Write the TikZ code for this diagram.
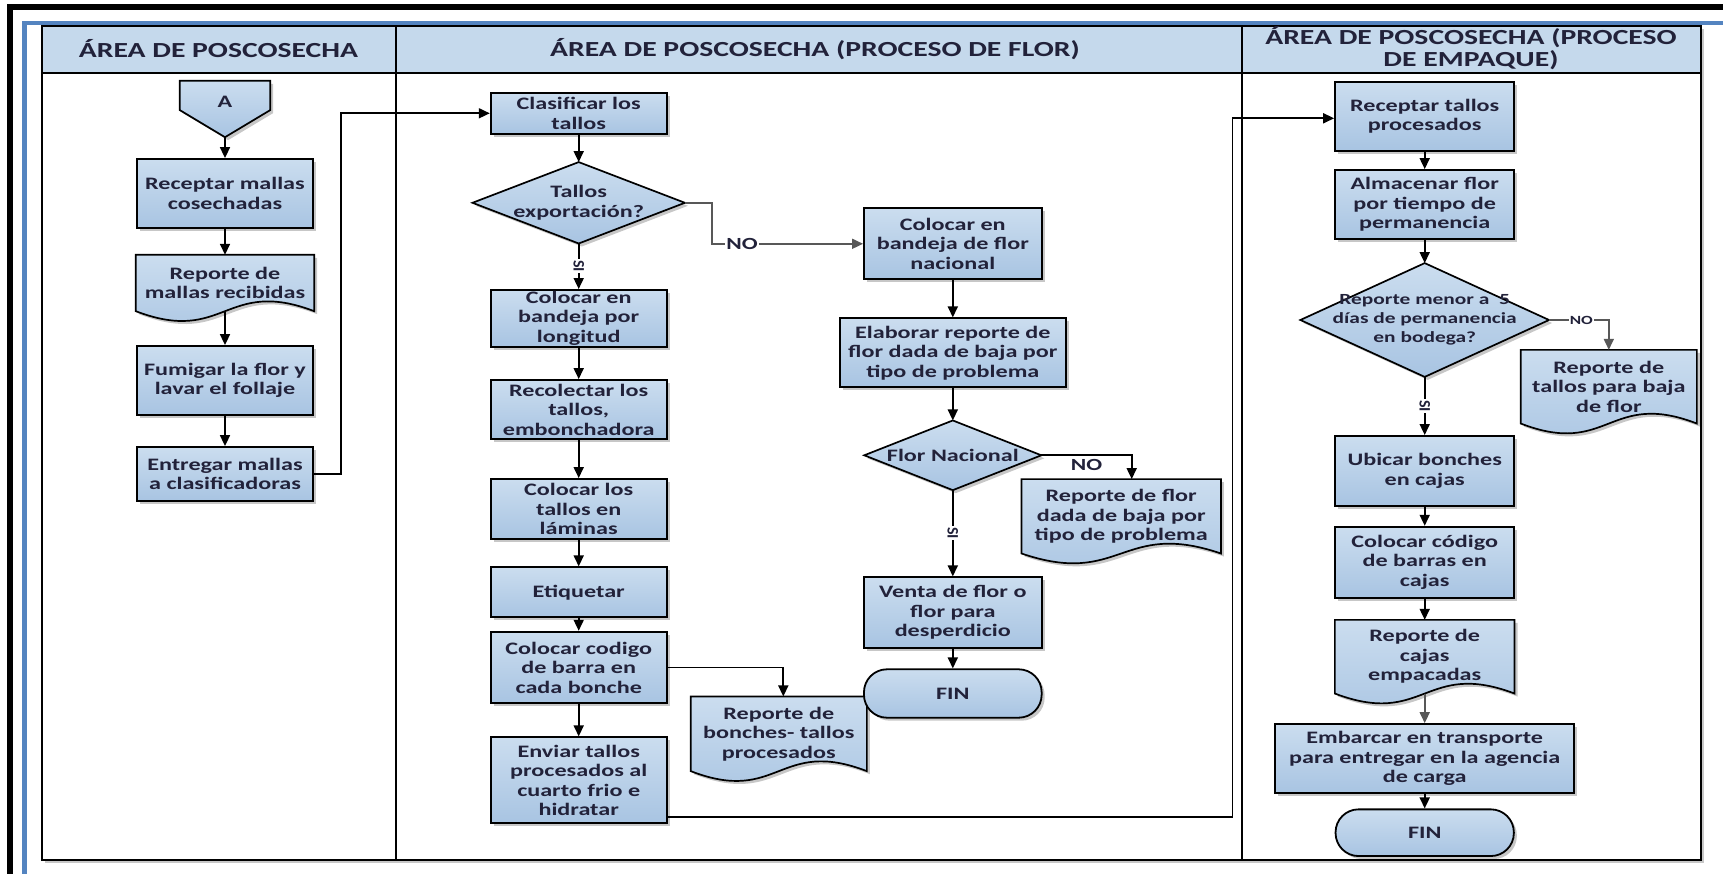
\documentclass[tikz,border=0pt]{standalone}
\usepackage{fontspec}
\usetikzlibrary{arrows.meta,shadows,calc}
\newfontfamily\boxfam{Carlito}[FakeStretch=1.38]
\newfontfamily\lblfam{Carlito}
\definecolor{boxtop}{RGB}{203,221,239}
\definecolor{boxbot}{RGB}{168,196,226}
\definecolor{headfill}{RGB}{197,217,236}
\definecolor{ink}{RGB}{34,34,58}
\definecolor{frameblue}{RGB}{84,132,192}
\definecolor{linkgray}{RGB}{88,88,88}
\pgfdeclarelayer{lanes}
\pgfdeclarelayer{skins}
\pgfsetlayers{lanes,skins,main}
\newcommand\boxfnt{\boxfam\bfseries\fontsize{17.5}{19.5}\selectfont}
\newcommand\diafnt{\boxfam\bfseries\fontsize{15.5}{18.8}\selectfont}
\newcommand\headfnt{\boxfam\bfseries\fontsize{21.5}{22.7}\selectfont}
\newcommand\sifnt{\lblfam\bfseries\fontsize{16}{17}\selectfont}
\newcommand\nofnt{\boxfam\bfseries\fontsize{17}{18}\selectfont}
\newcommand\nosmall{\boxfam\bfseries\fontsize{12.5}{13}\selectfont}
\tikzset{
  wh/.style 2 args={minimum width=#1pt, minimum height=#2pt},
  bluefill/.style={top color=boxtop, bottom color=boxbot},
  shadowed/.style={drop shadow={shadow xshift=3pt, shadow yshift=-3pt, opacity=0.22, fill=black}},
  proc/.style={rectangle, draw=black, line width=1.8pt, bluefill, shadowed,
    inner sep=0pt, align=center, font=\boxfnt, text=ink},
  term/.style={proc, rounded corners=23pt},
  hold/.style={rectangle, inner sep=0pt, align=center, font=\boxfnt, text=ink},
  skin/.style={draw=black, line width=1.7pt, line join=miter, bluefill, shadowed},
  flowlink/.style={draw=black, line width=1.7pt, -{Triangle[length=11pt,width=10pt]}},
  graylink/.style={flowlink, draw=linkgray},
  silabel/.style={font=\sifnt, text=ink, fill=white, inner sep=1pt, rotate=-90},
  nolabel/.style={font=\nofnt, text=ink, inner sep=1.5pt},
  headtext/.style={font=\headfnt, text=ink, align=center, inner sep=0pt},
}
% outlines drawn behind the text holders
\newcommand\docskin[1]{%
  \begin{pgfonlayer}{skins}
  \path[skin] (#1.north west) -- (#1.north east) -- (#1.south east)
    .. controls ([yshift=34pt]#1.south) and ([yshift=-34pt]#1.south) .. (#1.south west) -- cycle;
  \end{pgfonlayer}}
\newcommand\diaskin[1]{%
  \begin{pgfonlayer}{skins}
  \path[skin] (#1.north) -- (#1.east) -- (#1.south) -- (#1.west) -- cycle;
  \end{pgfonlayer}}
\newcommand\pageskin[1]{%
  \begin{pgfonlayer}{skins}
  \path[skin] (#1.north west) -- (#1.north east) -- ($(#1.north east)!0.52!(#1.south east)$)
    -- (#1.south) -- ($(#1.north west)!0.52!(#1.south west)$) -- cycle;
  \end{pgfonlayer}}
\begin{document}
\begin{tikzpicture}[x=1pt,y=-1pt]
\useasboundingbox (0,0) rectangle (1723,874);

% ---------- page frame and swimlane table ----------
\begin{pgfonlayer}{lanes}
  \draw[line width=6pt, black, line join=miter] (9.7,874) -- (9.7,7) -- (1723,7);
  \draw[line width=4.5pt, frameblue, line join=miter] (24.3,874) -- (24.3,23) -- (1723,23);
  \fill[black!22] (44.5,29) rectangle (1703.7,862.5);
  \fill[white] (41.5,26) rectangle (1700.7,859.5);
  \fill[headfill] (41.5,26) rectangle (1700.7,72.7);
  \draw[line width=2pt] (41.5,26) rectangle (1700.7,859.5);
  \draw[line width=2pt] (41.5,72.7) -- (1700.7,72.7);
  \draw[line width=2pt] (395.5,26) -- (395.5,859.5);
  \draw[line width=2pt] (1242,26) -- (1242,859.5);
  \node[headtext] (h1) at (218.5,49) {ÁREA DE POSCOSECHA};
  \node[headtext] (h2) at (815,49) {ÁREA DE POSCOSECHA (PROCESO DE FLOR)};
  \node[headtext] (h3) at (1471,48) {ÁREA DE POSCOSECHA (PROCESO\\DE EMPAQUE)};
\end{pgfonlayer}

% ---------- lane 1 ----------
\node[hold, wh={90}{56}, text height=12pt, text depth=14.6pt] (A) at (225,109) {A};
\pageskin{A}
\node[proc, wh={176}{69}] (rec1) at (225,193.5) {Receptar mallas\\cosechadas};
\node[hold, wh={178}{56}] (rep1) at (225,283) {Reporte de\\mallas recibidas};
\docskin{rep1}
\node[proc, wh={176}{69}] (fum) at (225,380.5) {Fumigar la flor y\\lavar el follaje};
\node[proc, wh={176}{54}] (ent) at (225,474) {Entregar mallas\\a clasificadoras};

% ---------- lane 2 ----------
\node[proc, wh={176}{41.3}] (clas) at (578.7,113.3) {Clasificar los\\tallos};
\node[hold, wh={212}{81}] (dia1) at (578.7,202.8) {Tallos\\exportación?};
\diaskin{dia1}
\node[proc, wh={176}{56.7}] (band) at (578.7,318.3) {Colocar en\\bandeja por\\longitud};
\node[proc, wh={176}{59}] (reco) at (578.7,409.5) {Recolectar los\\tallos,\\embonchadora};
\node[proc, wh={176}{60}] (lam) at (578.7,509) {Colocar los\\tallos en\\láminas};
\node[proc, wh={176}{50}] (etiq) at (578.7,592.3) {Etiquetar};
\node[proc, wh={176}{71.6}] (cod) at (578.7,667.5) {Colocar codigo\\de barra en\\cada bonche};
\node[proc, wh={176}{86}] (env) at (578.7,780.3) {Enviar tallos\\procesados al\\cuarto frio e\\hidratar};
\node[hold, wh={175.7}{74.3}] (repb) at (778.8,733.8) {Reporte de\\bonches- tallos\\procesados};
\docskin{repb}

\node[proc, wh={177.7}{71}] (nac) at (952.8,243.8) {Colocar en\\bandeja de flor\\nacional};
\node[proc, wh={225.7}{69}] (elab) at (952.8,352.8) {Elaborar reporte de\\flor dada de baja por\\tipo de problema};
\node[hold, wh={176.7}{69.3}] (dia2) at (952.8,455.3) {Flor Nacional};
\diaskin{dia2}
\node[hold, wh={199}{74}] (repf) at (1121.2,516.3) {Reporte de flor\\dada de baja por\\tipo de problema};
\docskin{repf}
\node[proc, wh={177.7}{70.4}] (venta) at (952.8,612.5) {Venta de flor o\\flor para\\desperdicio};
\node[term, wh={177.7}{48.4}] (fin1) at (952.8,693.5) {FIN};

% ---------- lane 3 ----------
\node[proc, wh={179.3}{69}] (recp) at (1424.7,116.2) {Receptar tallos\\procesados};
\node[proc, wh={179.3}{69}] (alm) at (1424.7,204.5) {Almacenar flor\\por tiempo de\\permanencia};
\node[hold, wh={248.3}{113.4}, font=\diafnt] (dia3) at (1424.7,320) {Reporte menor a\ \ 5\\días de permanencia\\en bodega?};
\diaskin{dia3}
\node[hold, wh={175.7}{73.3}] (rept) at (1608.8,386.7) {Reporte de\\tallos para baja\\de flor};
\docskin{rept}
\node[proc, wh={179.3}{69.7}] (ubic) at (1424.7,470.8) {Ubicar bonches\\en cajas};
\node[proc, wh={179.3}{71}] (codc) at (1424.7,562.2) {Colocar código\\de barras en\\cajas};
\node[hold, wh={179.3}{73.3}] (repc) at (1424.7,656.7) {Reporte de\\cajas\\empacadas};
\docskin{repc}
\node[proc, wh={299.3}{69.3}] (emb) at (1424.7,758.7) {Embarcar en transporte\\para entregar en la agencia\\de carga};
\node[term, wh={178.3}{46.7}] (fin2) at (1424.7,832.7) {FIN};

% ---------- connectors ----------
\coordinate (k1) at (341,113.3);
\coordinate (k2) at (1232.5,118.3);

\draw[flowlink] (A.south) -- (rec1.north);
\draw[flowlink] (rec1.south) -- (rep1.north);
\draw[flowlink] (rep1.south) -- (fum.north);
\draw[flowlink] (fum.south) -- (ent.north);
\draw[flowlink] (ent.east) -| (k1) -- (clas.west);

\draw[flowlink] (clas.south) -- (dia1.north);
\draw[flowlink] (dia1.south) -- (band.north) node[midway, silabel] (si1) {SI};
\draw[graylink] (dia1.east) -- ++(27,0) |- (nac.west) node[pos=0.6, nolabel, fill=white] (no1) {NO};
\draw[flowlink] (band.south) -- (reco.north);
\draw[flowlink] (reco.south) -- (lam.north);
\draw[flowlink] (lam.south) -- (etiq.north);
\draw[flowlink] (etiq.south) -- (cod.north);
\draw[flowlink] (cod.south) -- (env.north);
\draw[flowlink] (cod.east) -| ([xshift=4.5pt]repb.north);
\draw[flowlink] ([yshift=-36.4pt]env.east) -| (k2) -- (recp.west |- k2);

\draw[flowlink] (nac.south) -- (elab.north);
\draw[flowlink] (elab.south) -- (dia2.north);
\draw[flowlink] (dia2.east) -| ([xshift=10.5pt]repf.north) node[pos=0.25, nolabel, anchor=north, yshift=-2pt] (no2) {NO};
\draw[flowlink] (dia2.south) -- (venta.north) node[midway, silabel] (si2) {SI};
\draw[flowlink] (venta.south) -- (fin1.north);

\draw[flowlink] (recp.south) -- (alm.north);
\draw[flowlink] (alm.south) -- (dia3.north);
\draw[graylink] (dia3.east) -| (rept.north) node[pos=0.27, font=\nosmall, text=ink, fill=white, inner sep=1pt] (no3) {NO};
\draw[flowlink] (dia3.south) -- (ubic.north) node[midway, silabel] (si3) {SI};
\draw[flowlink] (ubic.south) -- (codc.north);
\draw[flowlink] (codc.south) -- (repc.north);
\draw[graylink] (repc.south) -- (emb.north);
\draw[flowlink] (emb.south) -- (fin2.north);
\end{tikzpicture}
\end{document}
